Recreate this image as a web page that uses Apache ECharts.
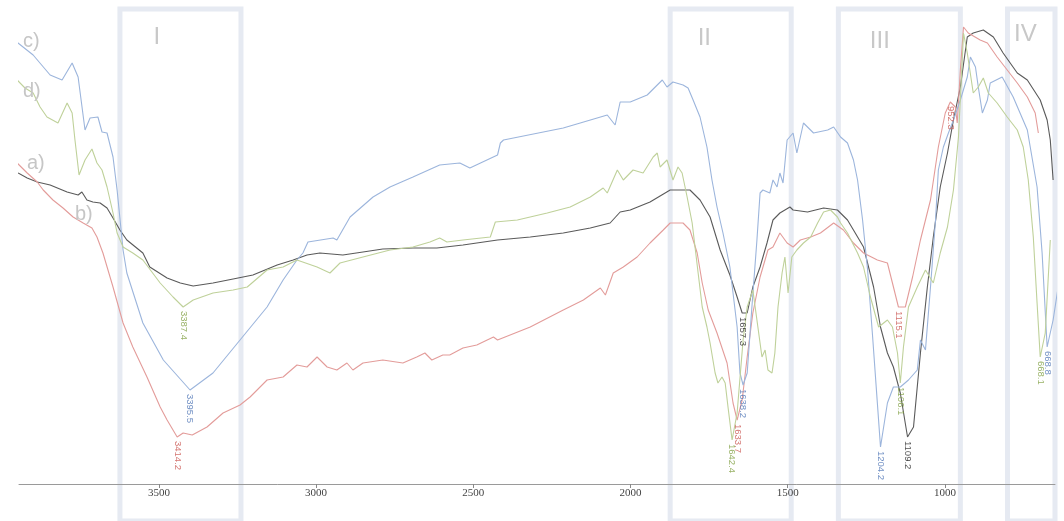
<!DOCTYPE html>
<html>
<head>
<meta charset="utf-8">
<script src="https://cdn.jsdelivr.net/npm/echarts@6/dist/echarts.min.js"></script>
<style>
html,body{margin:0;padding:0;background:#fff;}
#chart{width:1064px;height:521px;}
</style>
</head>
<body>
<div id="chart"></div>
<script>
// x: wavenumber (cm-1), y: transmittance (arbitrary units)
const curveA = [[3948,324],[3919,319],[3887,315],[3846,312],[3792,305],[3757,302],[3745,305],[3729,297],[3710,295],[3687,294],[3665,289],[3646,279],[3624,267],[3602,257],[3551,244],[3529,230],[3474,219],[3432,214],[3391,211],[3328,214],[3264,218],[3201,222],[3124,232],[3073,237],[3029,242],[2988,244],[2915,242],[2851,245],[2788,248],[2692,249],[2616,249],[2533,252],[2423,257],[2319,260],[2214,264],[2128,269],[2065,274],[2033,285],[2001,287],[1938,295],[1874,307],[1811,307],[1779,297],[1747,280],[1715,247],[1684,222],[1661,200],[1645,184],[1629,184],[1611,210],[1588,230],[1566,254],[1547,277],[1525,284],[1493,290],[1483,287],[1437,285],[1386,289],[1342,287],[1310,277],[1291,267],[1259,250],[1227,210],[1205,170],[1183,144],[1164,130],[1142,104],[1119,60],[1100,70],[1078,144],[1056,210],[1037,260],[1015,310],[992,344],[973,377],[951,410],[929,460],[910,464],[878,467],[846,460],[815,444],[770,424],[738,417],[697,397],[675,377],[665,357],[656,317]];

const curveB = [[3980,344],[3951,334],[3919,324],[3887,315],[3868,307],[3837,297],[3805,289],[3773,280],[3741,274],[3713,269],[3697,260],[3678,244],[3646,210],[3614,174],[3583,150],[3538,120],[3496,90],[3474,77],[3442,60],[3423,64],[3394,62],[3347,70],[3296,84],[3242,92],[3210,100],[3156,117],[3105,120],[3061,132],[3029,130],[2997,140],[2965,130],[2934,127],[2902,134],[2883,127],[2851,134],[2788,137],[2724,134],[2680,140],[2654,144],[2632,137],[2597,142],[2575,142],[2533,149],[2489,152],[2436,160],[2423,157],[2319,170],[2214,187],[2150,197],[2096,209],[2080,202],[2055,224],[2023,230],[1979,240],[1938,254],[1896,267],[1874,274],[1833,274],[1811,267],[1788,244],[1772,214],[1753,187],[1725,164],[1693,134],[1674,94],[1661,77],[1645,97],[1629,140],[1611,184],[1588,220],[1563,247],[1547,250],[1525,264],[1502,254],[1483,250],[1460,257],[1427,260],[1396,264],[1354,274],[1323,267],[1291,254],[1259,244],[1215,237],[1183,234],[1167,214],[1148,190],[1126,190],[1103,220],[1078,257],[1046,297],[1021,350],[999,384],[983,395],[967,390],[961,374],[951,427],[941,470],[926,464],[888,457],[865,454],[834,440],[802,427],[770,414],[738,400],[713,384],[703,364]];

const curveC = [[3964,458],[3900,442],[3846,422],[3808,417],[3776,434],[3757,420],[3735,367],[3719,379],[3694,380],[3681,365],[3665,364],[3646,340],[3633,307],[3614,247],[3602,224],[3551,174],[3486,137],[3401,107],[3328,124],[3242,157],[3156,190],[3105,217],[3061,237],[3042,244],[3026,255],[2946,259],[2934,257],[2892,280],[2819,300],[2765,310],[2692,320],[2607,332],[2543,334],[2511,329],[2423,342],[2414,354],[2404,357],[2214,369],[2160,374],[2074,382],[2049,372],[2033,395],[2001,395],[1947,402],[1899,417],[1884,410],[1865,415],[1833,412],[1817,409],[1801,397],[1779,380],[1757,350],[1741,317],[1725,290],[1706,264],[1684,230],[1661,170],[1652,124],[1642,112],[1629,124],[1614,190],[1598,257],[1588,304],[1579,307],[1557,304],[1547,317],[1534,310],[1525,324],[1515,314],[1502,357],[1483,364],[1471,344],[1450,374],[1418,364],[1373,367],[1354,370],[1332,360],[1310,354],[1291,337],[1278,317],[1262,277],[1246,227],[1230,160],[1215,94],[1205,50],[1183,94],[1164,110],[1142,110],[1116,117],[1088,127],[1078,157],[1062,147],[1046,210],[1030,277],[1021,327],[1005,350],[989,364],[973,377],[951,397],[929,420],[919,440],[903,430],[894,410],[881,384],[865,397],[856,414],[818,420],[783,400],[738,367],[707,310],[691,244],[675,150],[656,177],[633,224]];

const curveD = [[3973,437],[3951,417],[3926,409],[3900,404],[3878,390],[3856,380],[3821,374],[3792,394],[3776,384],[3767,357],[3754,322],[3735,337],[3713,348],[3697,334],[3681,327],[3665,310],[3646,284],[3633,264],[3614,250],[3583,244],[3551,237],[3496,214],[3455,200],[3423,190],[3391,197],[3328,204],[3264,207],[3219,210],[3156,227],[3105,230],[3061,237],[2997,230],[2956,224],[2924,234],[2851,240],[2765,247],[2692,250],[2638,255],[2607,259],[2584,255],[2533,257],[2446,260],[2430,275],[2360,277],[2265,284],[2192,290],[2128,300],[2087,309],[2074,304],[2042,327],[2023,317],[1992,327],[1960,324],[1928,340],[1915,344],[1906,330],[1884,337],[1880,335],[1865,317],[1849,330],[1836,324],[1820,300],[1804,274],[1785,224],[1772,190],[1757,170],[1747,154],[1731,124],[1722,114],[1709,120],[1699,114],[1690,90],[1677,57],[1661,84],[1642,157],[1629,190],[1611,207],[1595,170],[1582,140],[1572,147],[1563,127],[1550,124],[1541,144],[1531,190],[1518,224],[1509,240],[1499,204],[1487,240],[1471,247],[1450,254],[1427,260],[1405,274],[1386,285],[1364,287],[1342,280],[1332,274],[1310,264],[1278,244],[1259,230],[1237,200],[1211,170],[1183,177],[1167,170],[1151,144],[1142,114],[1132,150],[1116,190],[1088,210],[1062,227],[1037,214],[1015,244],[992,270],[973,307],[957,360],[945,437],[941,464],[929,444],[910,404],[894,410],[878,419],[862,404],[834,394],[802,380],[770,367],[751,350],[735,317],[719,260],[707,194],[697,140],[681,164],[665,257]];

// peak annotations: [wavenumber, transmittance, text]
const peaksA = [[1645,184,'1657.3'],[1119,60,'1109.2']];
const peaksB = [[3442,60,'3414.2'],[1661,77,'1633.7'],[1148,190,'1115.1'],[983,395,'952.3']];
const peaksC = [[3401,107,'3395.5'],[1642,112,'1638.2'],[1205,50,'1204.2'],[675,150,'668.8']];
const peaksD = [[3423,190,'3387.4'],[1677,57,'1642.4'],[1142,114,'1106.1'],[697,140,'668.1']];

// shaded regions: [name, from wavenumber, to wavenumber]
const regions = [['I',3624,3239],['II',1874,1489],['III',1339,951],['IV',801,400]];
const tickValues = [1000,1500,2000,2500,3000,3500];
const curveNames = ['a)','b)','c)','d)'];

const colors = {a:'#5a5a5a', b:'#e39c9a', c:'#9cb5dc', d:'#bfd19a'};
const labelColors = {a:'#1e1e1e', b:'#c9524e', c:'#4d74b5', d:'#7e9e3e'};
const regionOffsets = [[31,14],[25,15],[29,18],[4,11]];

const chart = echarts.init(document.getElementById('chart'), null, {renderer:'canvas'});

function lineSeries(data, color){
  return {type:'line', data:data, showSymbol:false, symbol:'none', clip:false, silent:true, z:3,
    lineStyle:{width:1.1, color:color}};
}
function peakSeries(data, color){
  return {type:'scatter', data:data, symbolSize:2, itemStyle:{color:'rgba(0,0,0,0)'}, clip:false, silent:true, z:4,
    label:{show:true, position:'bottom', distance:3, rotate:-90, align:'left', verticalAlign:'middle',
      fontFamily:'Liberation Sans', fontSize:9.5, color:color,
      formatter:function(p){return p.data[2];}}};
}

const option = {
  animation:false,
  backgroundColor:'#ffffff',
  grid:{left:19, right:9, top:0, bottom:0},
  xAxis:{type:'value', inverse:true, min:650, max:3945, offset:-37, z:10,
    axisLine:{show:true, onZero:false, lineStyle:{color:'#9a9a9a', width:1}},
    axisTick:{show:true, length:4, customValues:tickValues, lineStyle:{color:'#888'}},
    axisLabel:{show:true, customValues:tickValues, margin:4, fontFamily:'Liberation Serif', fontSize:11, color:'#444',
      formatter:function(v){return String(v);}},
    splitLine:{show:false}},
  yAxis:{type:'value', min:-24, max:497, show:false, splitLine:{show:false}},
  graphic: curveNames.map(function(n, i){
    const pos = [[27,153],[75,204],[23,31],[23,81]][i];
    return {type:'text', left:pos[0], top:pos[1], z:5, silent:true,
      style:{text:n, fill:'#c6c6c6', font:'20px "Liberation Sans"'}};
  }),
  series:[
    {type:'line', data:[], clip:false, silent:true, z:1,
      markArea:{silent:true,
        itemStyle:{color:'rgba(0,0,0,0)', borderColor:'#e6eaf2', borderWidth:5},
        label:{show:true, position:'insideTopLeft', color:'#c8c8c8', fontFamily:'Liberation Sans', fontSize:24},
        data: regions.map(function(r, i){
          return [{name:r[0], xAxis:r[1], yAxis:488, label:{offset:regionOffsets[i]}}, {xAxis:r[2], yAxis:-30}];
        })}},
    lineSeries(curveA, colors.a),
    lineSeries(curveB, colors.b),
    lineSeries(curveC, colors.c),
    lineSeries(curveD, colors.d),
    peakSeries(peaksA, labelColors.a),
    peakSeries(peaksB, labelColors.b),
    peakSeries(peaksC, labelColors.c),
    peakSeries(peaksD, labelColors.d)
  ]
};
chart.setOption(option);
</script>
</body>
</html>
